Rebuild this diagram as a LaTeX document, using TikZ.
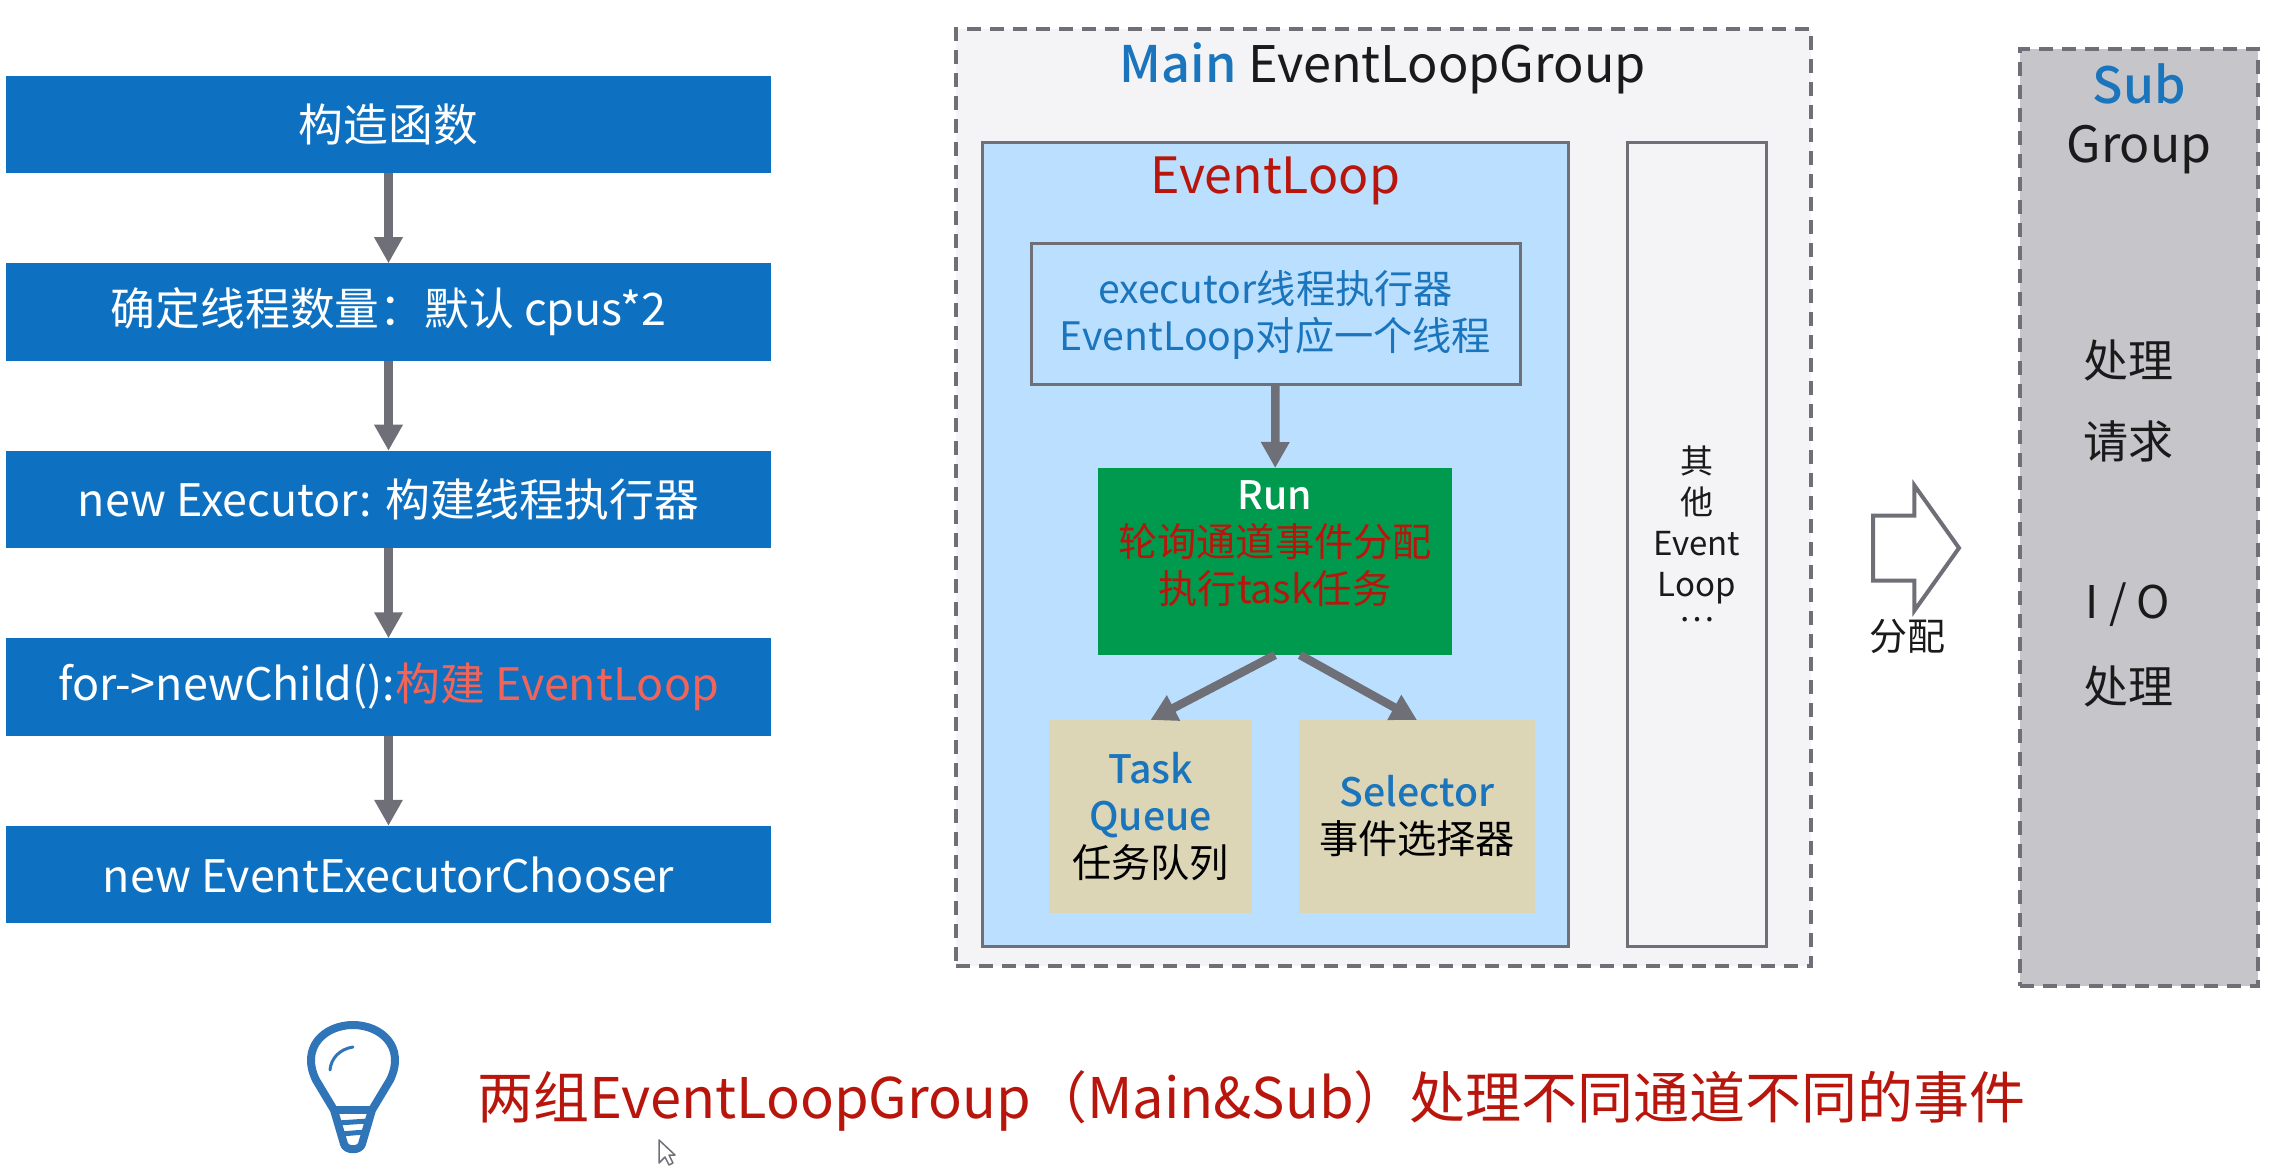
\documentclass[tikz,border=0pt]{standalone}
\usepackage{fontspec}
\setmainfont{Noto Sans CJK SC}
\newfontfamily\mediumfont{Noto Sans CJK SC Medium}
\usetikzlibrary{shapes,shapes.arrows,arrows.meta,positioning}

\definecolor{flowblue}{HTML}{0E70C0}
\definecolor{linegrey}{HTML}{6F6F78}
\definecolor{groupbg}{HTML}{F4F4F7}
\definecolor{loopbg}{HTML}{BBDFFF}
\definecolor{rungreen}{HTML}{009A4E}
\definecolor{queuebg}{HTML}{DDD6B6}
\definecolor{subbg}{HTML}{C5C5CA}
\definecolor{darkred}{HTML}{B8160C}
\definecolor{coral}{HTML}{F0645A}
\definecolor{textblue}{HTML}{1A75BC}
\definecolor{lampblue}{HTML}{2F75B8}
\definecolor{textblack}{HTML}{1A1A1A}

\tikzset{
    flowbox/.style={rectangle, fill=flowblue, text=white, inner sep=0pt, outer sep=0pt, minimum width=382.5pt, minimum height=48.75pt, font=\fontsize{22.4}{26}\selectfont},
    solidbox/.style={rectangle, draw=linegrey, line width=1.5pt, inner sep=0pt, outer sep=0pt, align=center},
    dashbox/.style={rectangle, draw=linegrey, line width=2pt, dash pattern=on 7pt off 4.5pt, inner sep=0pt, outer sep=0pt},
    smalltext/.style={font=\fontsize{19.6}{23.5}\selectfont, align=center, inner sep=0pt},
    plainlabel/.style={inner sep=0pt, outer sep=0pt, text=textblack},
    flowarrow/.style={draw=linegrey, line width=4.25pt, -{Triangle[width=13.5pt, length=13pt]}}
}

\begin{document}
\begin{tikzpicture}[x=0.5pt, y=-0.5pt, node distance=45pt]
    \useasboundingbox (0,0) rectangle (2281,1176);

    % left column
    \node (ctor) [flowbox] at (388.5,124.5) {构造函数};
    \node (count) [flowbox, below=of ctor] {确定线程数量：默认 cpus*2};
    \node (executor) [flowbox, below=of count] {new Executor: 构建线程执行器};
    \node (child) [flowbox, below=of executor] {for->newChild():\textcolor{coral}{构建 EventLoop}};
    \node (chooser) [flowbox, below=of child] {new EventExecutorChooser};

    \draw[flowarrow] (ctor) -- (count);
    \draw[flowarrow] (count) -- (executor);
    \draw[flowarrow] (executor) -- (child);
    \draw[flowarrow] (child) -- (chooser);

    % main group
    \node (maingroup) [dashbox, fill=groupbg, minimum width=427.5pt, minimum height=468.5pt] at (1383.5,497.5) {};
    \node (maintitle) [plainlabel, font=\fontsize{25.2}{30}\selectfont] at (1383,68) {\textcolor{textblue}{\mediumfont Main} EventLoopGroup};
    \node (loop) [solidbox, fill=loopbg, minimum width=293pt, minimum height=401.5pt] at (1275,544.5) {};
    \node (looptitle) [plainlabel, text=darkred, font=\fontsize{25}{30}\selectfont] at (1275,181) {EventLoop};
    \node (threadbox) [solidbox, fill=loopbg, text=textblue, font=\fontsize{19.6}{23.5}\selectfont, minimum width=244.5pt, minimum height=70.5pt] at (1275.5,314.5) {executor线程执行器\\EventLoop对应一个线程};
    \node (run) [rectangle, fill=rungreen, outer sep=0pt, minimum width=177pt, minimum height=93.5pt] at (1275,561.5) {};
    \node (runtext) [smalltext] at (1275,544) {\textcolor{white}{\mediumfont Run}\\\textcolor{darkred}{轮询通道事件分配}\\\textcolor{darkred}{执行task任务}};
    \node (taskq) [rectangle, fill=queuebg, smalltext, outer sep=0pt, minimum width=101.5pt, minimum height=96.5pt] at (1150.5,816.5) {\textcolor{textblue}{\mediumfont Task}\\\textcolor{textblue}{\mediumfont Queue}\\任务队列};
    \node (selector) [rectangle, fill=queuebg, smalltext, outer sep=0pt, minimum width=118pt, minimum height=96.5pt] at (1417,816.5) {\textcolor{textblue}{\mediumfont Selector}\\事件选择器};
    \node (others) [solidbox, fill=groupbg, minimum width=69.5pt, minimum height=401.5pt] at (1696.5,544.5) {};
    \node (otherstext) [plainlabel, align=center, font=\fontsize{16.5}{20.5}\selectfont] at (1696.5,533.5) {其\\他\\Event\\Loop\\[-8pt]…};

    \draw[flowarrow] (threadbox) -- (run);
    \draw[flowarrow] (run.south) -- (taskq.north);
    \draw[flowarrow] ([xshift=12.5pt]run.south) -- (selector.north);

    % dispatch arrow
    \node (dispatch) [single arrow, draw=linegrey, fill=white, line width=2pt, anchor=tail, inner xsep=0pt, inner ysep=15.25pt, outer sep=0pt, minimum height=43pt, single arrow head extend=15pt, single arrow tip angle=109, single arrow head indent=0pt] at (1873,548) {};
    \node (dispatchtext) [plainlabel, font=\fontsize{19}{23}\selectfont] at (1907,636) {分配};

    % sub group
    \node (subgroup) [dashbox, fill=subbg, minimum width=119pt, minimum height=468.5pt] at (2139,517.5) {};
    \node (subname) [plainlabel, text=textblue, font=\fontsize{25}{30}\selectfont\mediumfont] at (2139,84) {Sub};
    \node (subword) [plainlabel, font=\fontsize{25}{30}\selectfont] at (2139,150) {Group};
    \node (subreq1) [plainlabel, font=\fontsize{22.5}{25}\selectfont] at (2128,360) {处理};
    \node (subreq2) [plainlabel, font=\fontsize{22.5}{25}\selectfont] at (2128,441) {请求};
    \node (subio1) [plainlabel, font=\fontsize{22.5}{25}\selectfont] at (2128,605) {I / O};
    \node (subio2) [plainlabel, font=\fontsize{22.5}{25}\selectfont] at (2128,686) {处理};

    % lamp
    \draw[lampblue, line width=4pt, line join=round] (334,1110) -- (316,1080) .. controls (300,1047) and (325,1025) .. (353,1025) .. controls (381,1025) and (406,1047) .. (390,1080) -- (372,1110) -- (362,1144) .. controls (360,1151) and (346,1151) .. (344,1144) -- cycle;
    \draw[lampblue, line width=4pt] (334,1110) -- (372,1110);
    \draw[lampblue, line width=2.5pt] (338,1123) -- (368,1121);
    \draw[lampblue, line width=2.5pt] (341,1134) -- (365,1132);
    \draw[lampblue, line width=1.5pt, line cap=round] (330,1070) .. controls (331,1058) and (340,1049) .. (353,1047);
    \node (summary) [plainlabel, text=darkred, anchor=west, font=\fontsize{28}{32}\selectfont] at (477,1101) {两组EventLoopGroup（Main\&Sub）处理不同通道不同的事件};

    % pointer
    \draw[fill=white, draw=linegrey, line width=0.75pt, line join=round] (659,1140) -- (659,1163) -- (665,1157) -- (669,1165) -- (673,1163) -- (669,1155) -- (675,1155) -- cycle;
\end{tikzpicture}
\end{document}
